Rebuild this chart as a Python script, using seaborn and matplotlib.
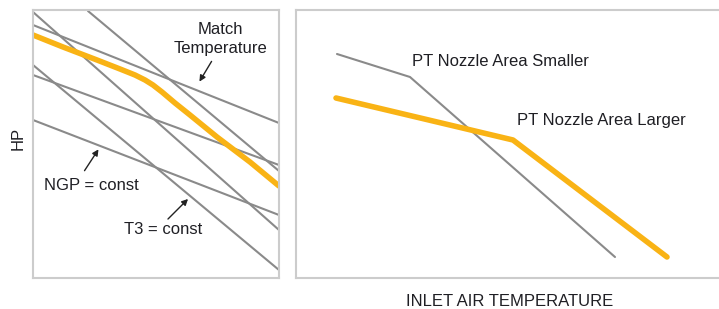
import matplotlib
matplotlib.use("Agg")
import matplotlib.pyplot as plt
import seaborn as sns

sns.set_theme(style="white")
plt.rcParams['font.family'] = ['Liberation Sans', 'DejaVu Sans']

# ---- Left panel data (conceptual units: x = inlet temp, y = HP, y axis inverted) ----
ngp_x = [[33, 279], [33, 279], [33, 279]]
ngp_y = [[25, 123], [75, 165], [120, 215]]
t3_x = [[33, 279], [88, 279], [33, 279]]
t3_y = [[12, 230], [11, 171], [65, 270]]
match_x = [33, 63, 97, 120, 135, 145, 153, 162, 175, 190, 217, 250, 279]
match_y = [35, 47, 60, 69, 75, 80, 85, 92, 103, 115, 137, 162, 186]

# ---- Right panel data ----
smaller_x = [337, 410, 615]
smaller_y = [54, 77, 257]
larger_x = [336, 513, 667]
larger_y = [98, 140, 257]

GRAY = "#8a8a8a"
ORANGE = "#F9B315"
TXT = "#1f1f24"
FRAME = "#cccccc"

W, H = 719, 309
fig = plt.figure(figsize=(W / 100, H / 100), dpi=100)

def pos(x0, y0, x1, y1):
    return [x0 / W, 1 - y1 / H, (x1 - x0) / W, (y1 - y0) / H]

ax1 = fig.add_axes(pos(33, 10, 279, 278))
ax2 = fig.add_axes(pos(296, 10, 719, 278))

for xs, ys in zip(ngp_x + t3_x, ngp_y + t3_y):
    sns.lineplot(x=xs, y=ys, ax=ax1, color=GRAY, lw=1.5, sort=False)
sns.lineplot(x=match_x, y=match_y, ax=ax1, color=ORANGE, lw=4, sort=False)
ax1.set_xlim(33, 279)
ax1.set_ylim(278, 10)

sns.lineplot(x=smaller_x, y=smaller_y, ax=ax2, color=GRAY, lw=1.5, sort=False)
sns.lineplot(x=larger_x, y=larger_y, ax=ax2, color=ORANGE, lw=4, sort=False)
ax2.set_xlim(296, 719)
ax2.set_ylim(278, 10)

for ax in (ax1, ax2):
    ax.set_xticks([])
    ax.set_yticks([])
    ax.set_xlabel("")
    ax.set_ylabel("")
    for s in ax.spines.values():
        s.set_color(FRAME)
        s.set_linewidth(1.5)
ax2.spines['right'].set_visible(False)

fs = 12
arrow = dict(arrowstyle="-|>", color="#222222", lw=1, mutation_scale=9)
ax1.text(220, 30, "Match", ha="center", va="center", fontsize=fs, color=TXT)
ax1.text(220, 48, "Temperature", ha="center", va="center", fontsize=fs, color=TXT)
ax1.annotate("", xy=(198, 84), xytext=(213, 59), arrowprops=arrow)
ax1.text(91, 185, "NGP = const", ha="center", va="center", fontsize=fs, color=TXT)
ax1.annotate("", xy=(100, 147), xytext=(83, 173), arrowprops=arrow)
ax1.text(163, 230, "T3 = const", ha="center", va="center", fontsize=fs, color=TXT)
ax1.annotate("", xy=(190, 197), xytext=(166, 221), arrowprops=arrow)

ax2.text(412, 61, "PT Nozzle Area Smaller", ha="left", va="center", fontsize=fs, color=TXT)
ax2.text(517, 121, "PT Nozzle Area Larger", ha="left", va="center", fontsize=fs, color=TXT)

fig.text(510 / W, 1 - 302 / H, "INLET AIR TEMPERATURE", ha="center", va="center",
         fontsize=fs, color=TXT)
fig.text(18 / W, 1 - 138 / H, "HP", ha="center", va="center", rotation=90,
         fontsize=fs, color=TXT)

fig.savefig("out.png", dpi=100)
